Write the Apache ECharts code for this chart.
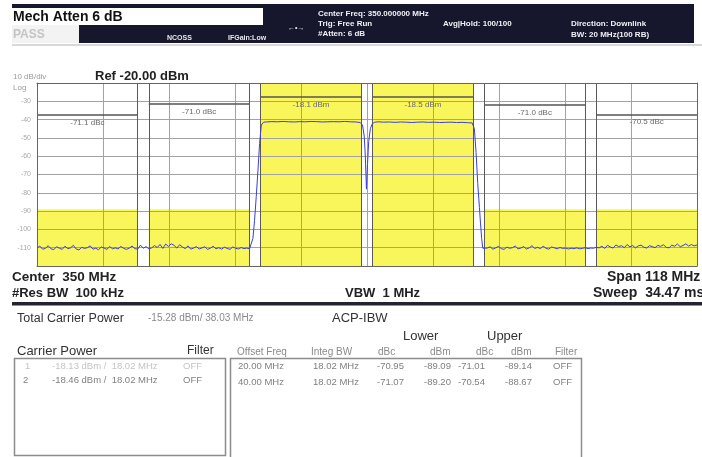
<!DOCTYPE html>
<html><head><meta charset="utf-8">
<script src="https://cdn.jsdelivr.net/npm/echarts@6/dist/echarts.min.js"></script>
<style>html,body{margin:0;padding:0;background:#fff}#c{width:702px;height:457px}</style>
</head><body><div id="c"></div>
<script>
// ---- instrument settings ----
const centerFreq = 350;          // MHz
const spanMHz = 118;             // MHz
const refLevel = -20;            // dBm
const dbPerDiv = 10;
const carrierCenters = [340, 360];
const integBW = 18.02;
const acpOffsets = [20, 40];
const adjFillTop = -89;          // top of yellow limit region in adjacent channels

// bracket levels and labels
const carrierBracketDbm = [-27.5, -27.5];
const carrierLabels = ['-18.1 dBm', '-18.5 dBm'];
const lowerBracketDbm = [-31.6, -37.5];   // offsets 20, 40
const lowerLabels = ['-71.0 dBc', '-71.1 dBc'];
const upperBracketDbm = [-32.0, -37.1];
const upperLabels = ['-71.0 dBc', '-70.5 dBc'];

// ---- trace ----
const lowerNoiseStart = 291, noiseStep = 0.5;
const lowerNoise = [
-110.2,-109.1,-110.8,-110.4,-108.9,-110.6,-111.0,-109.5,-110.3,-110.9,
-109.2,-110.5,-110.1,-108.7,-110.7,-111.2,-109.8,-110.4,-110.0,-109.0,
-110.8,-110.3,-111.1,-109.6,-110.2,-110.9,-109.4,-110.6,-110.1,-110.7,
-109.3,-110.4,-110.9,-110.2,-109.1,-110.5,-110.8,-108.6,-110.3,-109.4,
-110.6,-110.1,-108.8,-109.9,-108.2,-110.4,-108.0,-109.3,-107.9,-108.7,
-110.2,-108.4,-109.6,-110.5,-109.0,-110.8,-110.2,-109.4,-110.7,-110.1,
-109.5,-110.9,-110.3,-109.2,-110.6,-110.0,-110.8,-109.7,-110.4,-110.9,
-109.6,-110.3,-110.7,-109.9,-110.5,-110.2,-110.6];
const leftEdgeFreq = [329.3,329.6,329.9,330.2,330.5,330.8,331.1,331.5];
const leftEdgeDbm  = [-110.8,-105,-95,-82,-68,-53,-43,-41.4];
const carrier1Start = 332;
const carrier1Flat = [-41.3,-41.1,-41.2,-41.0,-41.2,-41.3,-41.1,-41.2,-41.0,-41.1,-41.3,-41.2,-41.1,-41.2,-41.0,-41.2,-41.3];
const notchFreq = [348.8,349.2,349.5,349.7,349.9,350.1,350.3,350.6,350.9,351.3];
const notchDbm  = [-41.6,-43,-49,-60,-78,-64,-52,-45,-42.5,-41.5];
const carrier2Start = 352;
const carrier2Flat = [-41.2,-41.4,-41.3,-41.5,-41.3,-41.4,-41.6,-41.4,-41.3,-41.5,-41.4,-41.6,-41.5,-41.4,-41.6,-41.5,-41.7];
const rightEdgeFreq = [368.8,369.2,369.5,369.8,370.1,370.3,370.5,370.7];
const rightEdgeDbm  = [-41.8,-45,-58,-75,-88,-97,-105,-110.3];
const upperNoiseStart = 371;
const upperNoise = [
-110.6,-110.2,-109.5,-110.8,-110.1,-109.3,-110.5,-110.9,-109.7,-110.3,
-110.0,-109.1,-110.6,-110.2,-109.4,-110.7,-110.1,-108.9,-110.4,-109.8,
-110.5,-109.2,-110.3,-110.8,-109.6,-110.1,-110.6,-109.9,-110.4,-110.2,
-110.7,-110.3,-110.5,-110.1,-110.6,-110.4,-110.0,-110.5,-110.2,-110.3,
-109.8,-110.1,-109.2,-110.4,-108.7,-109.6,-110.2,-108.5,-109.4,-108.9,
-110.0,-108.3,-109.5,-108.8,-110.1,-109.0,-108.6,-109.7,-110.2,-108.9,
-109.4,-110.0,-108.7,-109.3,-108.4,-109.8,-110.1,-108.6,-109.2,-108.0,
-109.5,-108.8,-107.9,-109.1,-108.3,-109.0,-108.5];

// ---- build data (x axis = offset from center freq) ----
const off = f => +(f - centerFreq).toFixed(3);
const trace = [];
lowerNoise.forEach((v,i)=>trace.push([off(lowerNoiseStart+i*noiseStep), v]));
leftEdgeFreq.forEach((f,i)=>trace.push([off(f), leftEdgeDbm[i]]));
carrier1Flat.forEach((v,i)=>trace.push([off(carrier1Start+i), v]));
notchFreq.forEach((f,i)=>trace.push([off(f), notchDbm[i]]));
carrier2Flat.forEach((v,i)=>trace.push([off(carrier2Start+i), v]));
rightEdgeFreq.forEach((f,i)=>trace.push([off(f), rightEdgeDbm[i]]));
upperNoise.forEach((v,i)=>trace.push([off(upperNoiseStart+i*noiseStep), v]));

const half = integBW/2;
const lowC = Math.min(...carrierCenters), highC = Math.max(...carrierCenters);
const carrierCh = carrierCenters.map(c=>[c-half, c+half]);
const lowerCh = acpOffsets.map(o=>[Math.max(lowC-o-half, centerFreq-spanMHz/2), lowC-o+half]);
const upperCh = acpOffsets.map(o=>[highC+o-half, Math.min(highC+o+half, centerFreq+spanMHz/2)]);
const yMin = refLevel - 10*dbPerDiv;

const yellow = '#f9f65c';
const areas = [];
carrierCh.forEach(ch=>areas.push([{xAxis:off(ch[0]), yAxis:yMin},{xAxis:off(ch[1]), yAxis:refLevel}]));
lowerCh.concat(upperCh).forEach(ch=>areas.push([{xAxis:off(ch[0]), yAxis:yMin},{xAxis:off(ch[1]), yAxis:adjFillTop}]));

const bounds = [];
carrierCh.concat(lowerCh, upperCh).forEach(ch=>{bounds.push({xAxis:off(ch[0])}); bounds.push({xAxis:off(ch[1])});});

const brackets = [];
function addBr(chs, lv, lb){ chs.forEach((ch,i)=>brackets.push([
  {coord:[off(ch[0]), lv[i]], label:{formatter:lb[i]}}, {coord:[off(ch[1]), lv[i]]}])); }
addBr(carrierCh, carrierBracketDbm, carrierLabels);
addBr(lowerCh, lowerBracketDbm, lowerLabels);
addBr(upperCh, upperBracketDbm, upperLabels);

// ---- header / table texts ----
const FONT = "'Liberation Sans', Arial, sans-serif";
const G = [];
function rect(x,y,w,h,fill,stroke,lw){ G.push({type:'rect', shape:{x,y,width:w,height:h}, style:{fill:fill||'none', stroke:stroke||null, lineWidth:lw||0}, silent:true}); }
function txt(x,y,t,size,color,weight,align){ G.push({type:'text', x, y, silent:true, style:{text:t, font:(weight||'normal')+' '+size+'px '+FONT, fill:color, textAlign:align||'left', textVerticalAlign:'middle', align:align||'left', verticalAlign:'middle'}}); }

rect(12,4,682,39,'#16162c');
rect(12,44,690,2,'#d8d8d8');
rect(12,8,251,17,'#ffffff');
rect(12,25,67,18,'#f3f3f3');
txt(13,17,'Mech Atten 6 dB',14,'#111','bold');
txt(13,34.5,'PASS',12,'#c4c4c4','bold');
txt(167,38.5,'NCOSS',7,'#e8e8f0','bold');
txt(228,38.5,'IFGain:Low',7,'#e8e8f0','bold');
txt(288,28.5,'←•→',7,'#e8e8f0','bold');
txt(318,14,'Center Freq: 350.000000 MHz',8,'#f0f0f4','bold');
txt(318,24,'Trig: Free Run',8,'#f0f0f4','bold');
txt(318,33.5,'#Atten: 6 dB',8,'#f0f0f4','bold');
txt(443,24,'Avg|Hold: 100/100',8,'#f0f0f4','bold');
txt(571,24,'Direction: Downlink',8,'#f0f0f4','bold');
txt(571,34.5,'BW: 20 MHz(100 RB)',8,'#f0f0f4','bold');

txt(13,76.5,'10 dB/div',8,'#9a9a9a');
txt(95,76.5,'Ref -20.00 dBm',13,'#222','bold');
txt(13,88,'Log',8,'#9a9a9a');

txt(12,277,'Center  350 MHz',13.5,'#222','bold');
txt(12,293.5,'#Res BW  100 kHz',13,'#222','bold');
txt(345,293.5,'VBW  1 MHz',13,'#222','bold');
txt(607,277,'Span 118 MHz',14,'#222','bold');
txt(593,293.5,'Sweep  34.47 ms',14,'#222','bold');
rect(12,302,690,3.5,'#242430');

txt(17,318.5,'Total Carrier Power',12.5,'#333');
txt(148,318,'-15.28 dBm/ 38.03 MHz',10,'#8a8a8a');
txt(332,318.5,'ACP-IBW',13,'#333');
txt(403,336.5,'Lower',13,'#333');
txt(487,336.5,'Upper',13,'#333');
txt(17,351,'Carrier Power',13,'#333');
txt(187,350.5,'Filter',12,'#333');
txt(237,352.5,'Offset Freq',10,'#8a8a8a');
txt(311,352.5,'Integ BW',10,'#8a8a8a');
txt(378,352.5,'dBc',10,'#8a8a8a');
txt(430,352.5,'dBm',10,'#8a8a8a');
txt(476,352.5,'dBc',10,'#8a8a8a');
txt(511,352.5,'dBm',10,'#8a8a8a');
txt(555,352.5,'Filter',10,'#8a8a8a');

rect(14.5,358.5,211,97,'none','#8c8c8c',1.5);
rect(230.5,358.5,351,110,'none','#8c8c8c',1.5);

txt(25,366,'1',9.5,'#c4c4c4');
txt(52,366,'-18.13 dBm /  18.02 MHz',9.5,'#c4c4c4');
txt(183,366,'OFF',9.5,'#c4c4c4');
txt(23,380,'2',9.5,'#808080');
txt(52,380,'-18.46 dBm /  18.02 MHz',9.5,'#808080');
txt(183,380,'OFF',9.5,'#808080');

const acpRows = [
  ['20.00 MHz','18.02 MHz','-70.95','-89.09','-71.01','-89.14','OFF'],
  ['40.00 MHz','18.02 MHz','-71.07','-89.20','-70.54','-88.67','OFF']];
const acpColX = [238,313,377,424,458,505,553];
acpRows.forEach((r,ri)=>r.forEach((t,ci)=>txt(acpColX[ci], 366+ri*16, t, 9.5, '#808080')));

// ---- chart ----
const chart = echarts.init(document.getElementById('c'), null, {renderer:'canvas'});
const gridLine = {show:true, lineStyle:{color:'#a2a2a2', width:1}};
chart.setOption({
  animation:false,
  backgroundColor:'#fff',
  grid:{left:37, right:5, top:83, bottom:191, show:false},
  xAxis:[
    {type:'value', min:-spanMHz/2, max:spanMHz/2, interval:spanMHz/10, z:5,
     axisLabel:{show:false}, axisTick:{show:false}, splitLine:gridLine,
     axisLine:{show:true, onZero:false, lineStyle:{color:'#666', width:1}}},
    {type:'value', position:'top', min:-spanMHz/2, max:spanMHz/2, interval:spanMHz/10, z:5,
     axisLabel:{show:false}, axisTick:{show:false}, splitLine:{show:false},
     axisLine:{show:true, onZero:false, lineStyle:{color:'#666', width:1}}}],
  yAxis:[
    {type:'value', min:yMin, max:refLevel, interval:dbPerDiv, z:5,
     axisLabel:{fontSize:7, color:'#a8a8a8', margin:6, fontFamily:FONT,
       formatter:v=>(v===refLevel||v===yMin)?'':String(v)},
     axisTick:{show:false}, splitLine:gridLine,
     axisLine:{show:true, onZero:false, lineStyle:{color:'#666', width:1}}},
    {type:'value', position:'right', min:yMin, max:refLevel, interval:dbPerDiv, z:5,
     axisLabel:{show:false}, axisTick:{show:false}, splitLine:{show:false},
     axisLine:{show:true, onZero:false, lineStyle:{color:'#666', width:1}}}],
  graphic:G,
  series:[
    {type:'line', name:'bands', data:trace, z:1, showSymbol:false, silent:true,
     lineStyle:{opacity:0}, itemStyle:{opacity:0},
     markArea:{silent:true, itemStyle:{color:yellow}, data:areas}},
    {type:'line', name:'bounds', data:trace, z:6, showSymbol:false, silent:true,
     lineStyle:{opacity:0}, itemStyle:{opacity:0},
     markLine:{silent:true, symbol:'none', animation:false,
       lineStyle:{color:'#5a5a5a', width:1, type:'solid'}, label:{show:false}, data:bounds}},
    {type:'line', name:'brackets', data:trace, z:7, showSymbol:false, silent:true,
     lineStyle:{opacity:0}, itemStyle:{opacity:0},
     markLine:{silent:true, symbol:'none', animation:false,
       lineStyle:{color:'#555', width:1.5, type:'solid'},
       label:{show:true, position:'insideMiddleBottom', distance:4, fontSize:8, color:'#6a6a6a', fontFamily:FONT},
       data:brackets}},
    {type:'line', name:'trace', data:trace, z:8, showSymbol:false, silent:true,
     lineStyle:{color:'#3d3dd8', width:1}}
  ]
});
</script></body></html>
